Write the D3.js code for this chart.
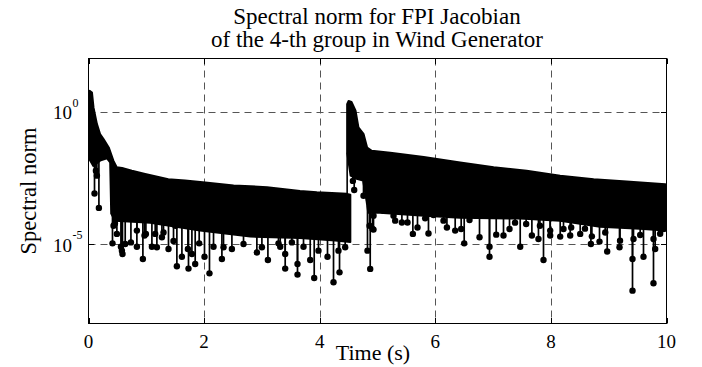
<!DOCTYPE html>
<html>
<head>
<meta charset="utf-8">
<script src="https://cdn.jsdelivr.net/npm/d3@7"></script>
<style>
  body { margin: 0; background: #fff; }
  text { font-family: "Liberation Serif", "Times New Roman", serif; fill: #000; }
</style>
</head>
<body>
<svg id="chart" width="702" height="367"></svg>
<script>
// x ticks (s) and y ticks (log scale)
const xTicks = [0, 2, 4, 6, 8, 10];
const yTicks = [1e-5, 1e0];
const yTickExp = ["-5", "0"];

// first event (t = 0): top edge and bottom edge of the dense band, [time, norm]
const upper1 = [[0, 5.1], [0.02, 6.0], [0.06, 5.2], [0.087, 1.4], [0.145, 0.34], [0.2, 0.14],
  [0.26, 0.091], [0.35, 0.044], [0.43, 0.014], [0.49, 0.0078], [0.58, 0.0074], [0.75, 0.0058],
  [0.98, 0.0044], [1.38, 0.0028], [1.67, 0.0025], [2.02, 0.0021], [2.51, 0.0016], [3.09, 0.0014],
  [3.66, 0.0010], [3.95, 0.00089], [4.47, 0.00078], [4.53, 0.00072]];
const lower1 = [[0, 0.018], [0.081, 0.0089], [0.2, 0.014], [0.32, 0.017], [0.375, 0.012],
  [0.393, 1.4e-4], [0.46, 7.6e-5], [1.07, 6.3e-5], [1.93, 3.2e-5], [2.8, 1.9e-5], [3.66, 1.7e-5],
  [4.27, 1.35e-5], [4.53, 1.2e-5]];

// second event (t = 4.5)
const upper2 = [[4.475, 1.9], [4.5, 2.5], [4.55, 2.3], [4.62, 1.07], [4.67, 0.25], [4.76, 0.14],
  [4.82, 0.044], [4.9, 0.033], [5.22, 0.028], [5.8, 0.019], [6.43, 0.012], [7.01, 0.0078],
  [7.58, 0.0058], [8.16, 0.0038], [8.74, 0.0028], [9.31, 0.0023], [9.98, 0.0018]];
const lower2 = [[4.475, 0.028], [4.535, 0.0038], [4.64, 0.0029], [4.75, 0.0025], [4.81, 4.3e-4],
  [4.84, 1.5e-4], [5.04, 1.5e-4], [5.74, 1.2e-4], [6.43, 9.8e-5], [7.47, 9.1e-5], [8.16, 7.6e-5],
  [8.85, 4.5e-5], [9.54, 3.8e-5], [9.98, 3.2e-5]];

// isolated low samples hanging below the band
const drops1 = [[0.076, 1.6e-2], [0.128, 5.8e-3], [0.145, 3.8e-3], [0.104, 8.1e-4], [0.18, 2.3e-4],
  [0.415, 1.06e-5], [0.433, 4.9e-5], [0.457, 6.0e-5], [0.491, 2.4e-5], [0.561, 7.9e-6],
  [0.578, 5.6e-6], [0.588, 4.2e-6], [0.635, 1.0e-5], [0.734, 1.15e-5], [0.837, 7.9e-6],
  [0.837, 3.2e-5], [0.941, 2.7e-6], [0.969, 2.1e-5], [0.993, 2.4e-5], [1.097, 7.9e-6],
  [1.154, 2.4e-5], [1.183, 7.5e-6], [1.27, 1.8e-5], [1.298, 2.7e-5], [1.384, 6.5e-6],
  [1.471, 1.3e-5], [1.503, 4.9e-5], [1.529, 1.44e-6], [1.616, 3.3e-6], [1.72, 6.5e-6],
  [1.73, 1.18e-6], [1.789, 4.2e-6], [1.846, 1.77e-6], [1.915, 1.06e-5], [2.007, 3.3e-6],
  [2.093, 7.8e-7], [2.163, 7.9e-6], [2.308, 2.7e-6], [2.336, 7.5e-6], [2.481, 6.5e-6],
  [2.625, 2.7e-5], [2.682, 1.0e-5], [2.913, 4.8e-6], [3.0, 7.5e-6], [3.104, 2.5e-6],
  [3.144, 3.2e-5], [3.287, 1.06e-5], [3.317, 7.9e-6], [3.403, 4.2e-6], [3.403, 1.18e-6],
  [3.519, 1.15e-5], [3.616, 1.77e-6], [3.616, 7.0e-7], [3.72, 7.9e-6], [3.836, 2.5e-6],
  [3.905, 5.2e-7], [3.979, 5.6e-6], [4.008, 2.1e-5], [4.135, 3.3e-6], [4.239, 3.6e-7],
  [4.325, 5.6e-6], [4.343, 8.5e-7], [4.441, 7.5e-6]];
const drops2 = [[4.574, 2.4e-3], [4.597, 1.09e-3], [4.758, 6.6e-4], [4.827, 5.6e-6], [4.874, 1.15e-6],
  [4.862, 4.9e-5], [4.914, 3.7e-5], [4.931, 1.17e-4], [4.931, 3.5e-5], [5.104, 1.8e-4],
  [5.19, 1.8e-4], [5.277, 1.17e-4], [5.306, 7.6e-5], [5.422, 6.5e-5], [5.519, 6.5e-5],
  [5.612, 2.4e-5], [5.692, 4.2e-5], [5.825, 9.3e-5], [5.882, 2.5e-5], [5.969, 1.24e-4],
  [6.142, 7.6e-5], [6.201, 4.2e-5], [6.344, 3.2e-5], [6.448, 3.7e-5], [6.5, 1.06e-5],
  [6.592, 8.1e-5], [6.765, 1.8e-5], [6.938, 7.9e-6], [6.938, 3.3e-6], [7.054, 2.25e-5],
  [7.18, 2.1e-5], [7.284, 3.7e-5], [7.38, 6.4e-5], [7.469, 7.9e-6], [7.572, 5.7e-5],
  [7.671, 2.1e-5], [7.785, 1.55e-5], [7.81, 4.9e-5], [7.872, 2.5e-6], [7.988, 2.1e-5],
  [7.988, 3.2e-5], [8.161, 1.9e-5], [8.218, 3.7e-5], [8.334, 2.1e-5], [8.351, 4.2e-5],
  [8.507, 2.4e-5], [8.59, 3.8e-5], [8.692, 1.0e-5], [8.709, 1.94e-5], [8.841, 1.23e-5],
  [8.94, 2.7e-5], [8.974, 5.2e-6], [9.187, 7.5e-6], [9.196, 1.34e-5], [9.412, 2.7e-6],
  [9.412, 1.74e-7], [9.429, 1.55e-5], [9.545, 2.2e-5], [9.602, 3.3e-6], [9.775, 3.3e-7],
  [9.775, 1.55e-5], [9.804, 6.5e-6], [9.89, 2.45e-5], [9.948, 3.7e-5]];

const svg = d3.select("#chart");
const margin = { top: 58.5, right: 35.5, bottom: 43.5, left: 88.5 };
const W = 702, H = 367;

const x = d3.scaleLinear().domain([0, 10]).range([margin.left, W - margin.right]);
const y = d3.scaleLog().domain([1e-8, 1e2]).range([H - margin.bottom, margin.top]);

const line = d3.line().x(d => x(d[0])).y(d => y(d[1]));

// value of an edge at time t (linear in t, log in value)
function edgeAt(edge, t) {
  const i = Math.max(1, Math.min(edge.length - 1, d3.bisector(d => d[0]).left(edge, t)));
  const a = edge[i - 1], b = edge[i];
  const f = (t - a[0]) / (b[0] - a[0]);
  return Math.pow(10, Math.log10(a[1]) + f * (Math.log10(b[1]) - Math.log10(a[1])));
}

svg.append("clipPath").attr("id", "plotclip").append("rect")
  .attr("x", margin.left).attr("y", margin.top)
  .attr("width", x(10) - x(0)).attr("height", y(1e-8) - y(1e2));

// grid
const grid = svg.append("g").attr("stroke", "#555").attr("stroke-width", 1).attr("stroke-dasharray", "7,5");
grid.selectAll("line.gx").data(xTicks.slice(1, -1)).join("line")
  .attr("x1", d => Math.round(x(d)) + 0.5).attr("x2", d => Math.round(x(d)) + 0.5)
  .attr("y1", y(1e2)).attr("y2", y(1e-8));
grid.selectAll("line.gy").data(yTicks).join("line")
  .attr("y1", d => Math.round(y(d)) + 0.5).attr("y2", d => Math.round(y(d)) + 0.5)
  .attr("x1", x(0)).attr("x2", x(10));

const plot = svg.append("g").attr("clip-path", "url(#plotclip)");

// dense band of each event
[[upper1, lower1], [upper2, lower2]].forEach(([up, lo]) => {
  plot.append("path")
    .attr("d", line(up.concat(lo.slice().reverse())) + "Z")
    .attr("fill", "#000").attr("stroke", "#000").attr("stroke-width", 2)
    .attr("stroke-linejoin", "round");
});

// link between the two events
plot.append("line")
  .attr("x1", x(upper2[0][0])).attr("x2", x(upper2[0][0]))
  .attr("y1", y(lower2[0][1])).attr("y2", y(edgeAt(upper1, upper2[0][0])))
  .attr("stroke", "#000").attr("stroke-width", 1.6);

// stems and markers
[[drops1, lower1], [drops2, lower2]].forEach(([drops, lo]) => {
  plot.selectAll(null).data(drops).join("line")
    .attr("x1", d => x(d[0])).attr("x2", d => x(d[0]))
    .attr("y1", d => y(d[1])).attr("y2", d => y(edgeAt(lo, d[0])) - 2)
    .attr("stroke", "#000").attr("stroke-width", 1.7);
  plot.selectAll(null).data(drops).join("circle")
    .attr("cx", d => x(d[0])).attr("cy", d => y(d[1])).attr("r", 3.2)
    .attr("fill", "#000");
});

// box
svg.append("rect")
  .attr("x", x(0)).attr("y", y(1e2)).attr("width", x(10) - x(0)).attr("height", y(1e-8) - y(1e2))
  .attr("fill", "none").attr("stroke", "#000").attr("stroke-width", 1);

// ticks pointing inward on all sides
const tl = 5.5;
const ticks = svg.append("g").attr("stroke", "#000").attr("stroke-width", 1);
xTicks.forEach(t => {
  const px = Math.round(x(t)) + 0.5;
  ticks.append("line").attr("x1", px).attr("x2", px).attr("y1", y(1e-8)).attr("y2", y(1e-8) - tl);
  ticks.append("line").attr("x1", px).attr("x2", px).attr("y1", y(1e2)).attr("y2", y(1e2) + tl);
});
yTicks.forEach(v => {
  const py = Math.round(y(v)) + 0.5;
  ticks.append("line").attr("x1", x(0)).attr("x2", x(0) + tl).attr("y1", py).attr("y2", py);
  ticks.append("line").attr("x1", x(10)).attr("x2", x(10) - tl).attr("y1", py).attr("y2", py);
});

// tick labels
svg.selectAll("text.xt").data(xTicks).join("text")
  .attr("x", d => x(d)).attr("y", 347.5)
  .attr("text-anchor", "middle").attr("font-size", 19).text(d => d);

yTicks.forEach((v, i) => {
  svg.append("text").attr("x", 72).attr("y", y(v) + 7.5)
    .attr("text-anchor", "end").attr("font-size", 19).text("10");
  svg.append("text").attr("x", 72.5).attr("y", y(v) - 5)
    .attr("font-size", 12).text(yTickExp[i]);
});

// axis labels and title
svg.append("text").attr("x", 373).attr("y", 360)
  .attr("text-anchor", "middle").attr("font-size", 22).text("Time (s)");
svg.append("text").attr("transform", "translate(36,191) rotate(-90)")
  .attr("text-anchor", "middle").attr("font-size", 22.5).text("Spectral norm");

svg.append("text").attr("x", 377).attr("y", 24)
  .attr("text-anchor", "middle").attr("font-size", 23).text("Spectral norm for FPI Jacobian");
svg.append("text").attr("x", 377).attr("y", 47)
  .attr("text-anchor", "middle").attr("font-size", 23).text("of the 4-th group in Wind Generator");
</script>
</body>
</html>
